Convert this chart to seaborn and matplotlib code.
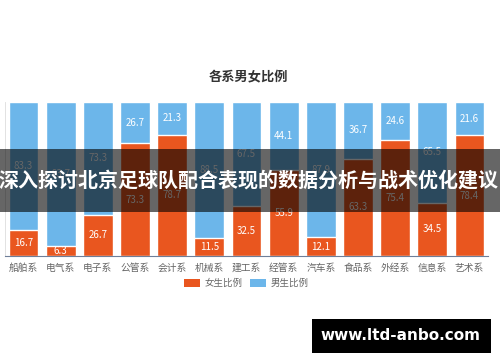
import numpy as np
import pandas as pd
import matplotlib
matplotlib.use("Agg")
import matplotlib.pyplot as plt
import seaborn as sns
from matplotlib.patches import Rectangle

# données
departements = ["船舶系", "电气系", "电子系", "公管系", "会计系", "机械系", "建工系",
                "经管系", "汽车系", "食品系", "外经系", "信息系", "艺术系"]
femmes = [16.7, 6.3, 26.7, 73.3, 78.7, 11.5, 32.5, 55.9, 12.1, 63.3, 75.4, 34.5, 78.4]
hommes = [83.3, 93.7, 73.3, 26.7, 21.3, 88.5, 67.5, 44.1, 87.9, 36.7, 24.6, 65.5, 21.6]

titre = "各系男女比例"
banniere = "深入探讨北京足球队配合表现的数据分析与战术优化建议"
site = "www.ltd-anbo.com"

orange = "#e9561f"
bleu = "#6cb6ea"

sns.set_style("white")
plt.rcParams['font.family'] = ['Noto Sans CJK SC', 'DejaVu Sans']

df = pd.DataFrame({"dep": departements, "femmes": femmes, "hommes": hommes})
df["total"] = df["femmes"] + df["hommes"]

fig = plt.figure(figsize=(5, 3.62), dpi=100)
ax = fig.add_axes([0.01, 0.293, 0.966, 0.425])

sns.barplot(data=df, x="dep", y="total", color=bleu, width=0.8, saturation=1, ax=ax)
sns.barplot(data=df, x="dep", y="femmes", color=orange, width=0.8, saturation=1, ax=ax)

for i, (f, h) in enumerate(zip(df["femmes"], df["hommes"])):
    ax.text(i, f / 2, f"{f}", ha="center", va="center", color="white", fontsize=7)
    ax.text(i, f + h / 2, f"{h}", ha="center", va="center", color="white", fontsize=7)

ax.set_xlim(-0.5, len(departements) - 0.5)
ax.set_ylim(0, 100)
ax.set_xlabel("")
ax.set_ylabel("")
ax.set_yticks([])
for s in ["top", "right"]:
    ax.spines[s].set_visible(False)
ax.spines["left"].set_color("#dddddd")
ax.spines["left"].set_linewidth(0.6)
ax.spines["bottom"].set_color("#6e7f99")
ax.spines["bottom"].set_linewidth(0.8)
ax.tick_params(axis="x", which="major", length=0, labelsize=7, labelcolor="#666666", pad=5)
ax.set_xticks(np.arange(-0.5, len(departements)), minor=True)
ax.tick_params(axis="x", which="minor", length=3, color="#6e7f99", width=0.8)

fig.text(0.497, 0.787, titre, ha="center", va="center", fontsize=9.5,
         fontweight="bold", color="#333333")

# légende
fig.patches.append(Rectangle((0.368, 0.206), 0.032, 0.024, transform=fig.transFigure,
                             facecolor=orange, edgecolor="none"))
fig.text(0.41, 0.218, "女生比例", ha="left", va="center", fontsize=6.8, color="#666666")
fig.patches.append(Rectangle((0.5, 0.206), 0.032, 0.024, transform=fig.transFigure,
                             facecolor=bleu, edgecolor="none"))
fig.text(0.542, 0.218, "男生比例", ha="left", va="center", fontsize=6.8, color="#666666")

# bandeau
fig.patches.append(Rectangle((0, 0.414), 1, 0.174, transform=fig.transFigure,
                             facecolor="black", alpha=0.6, edgecolor="none", zorder=5))
fig.text(0.497, 0.503, banniere, ha="center", va="center", fontsize=14.4,
         fontweight="bold", color="white", zorder=6)

# filigrane
fig.patches.append(Rectangle((0.624, 0.026), 0.357, 0.093, transform=fig.transFigure,
                             facecolor="black", edgecolor="none", zorder=5))
fig.text(0.8, 0.072, site, ha="center", va="center", fontsize=11,
         fontweight="bold", color="white", family="DejaVu Sans", zorder=6)

fig.savefig("out.png", dpi=100)
